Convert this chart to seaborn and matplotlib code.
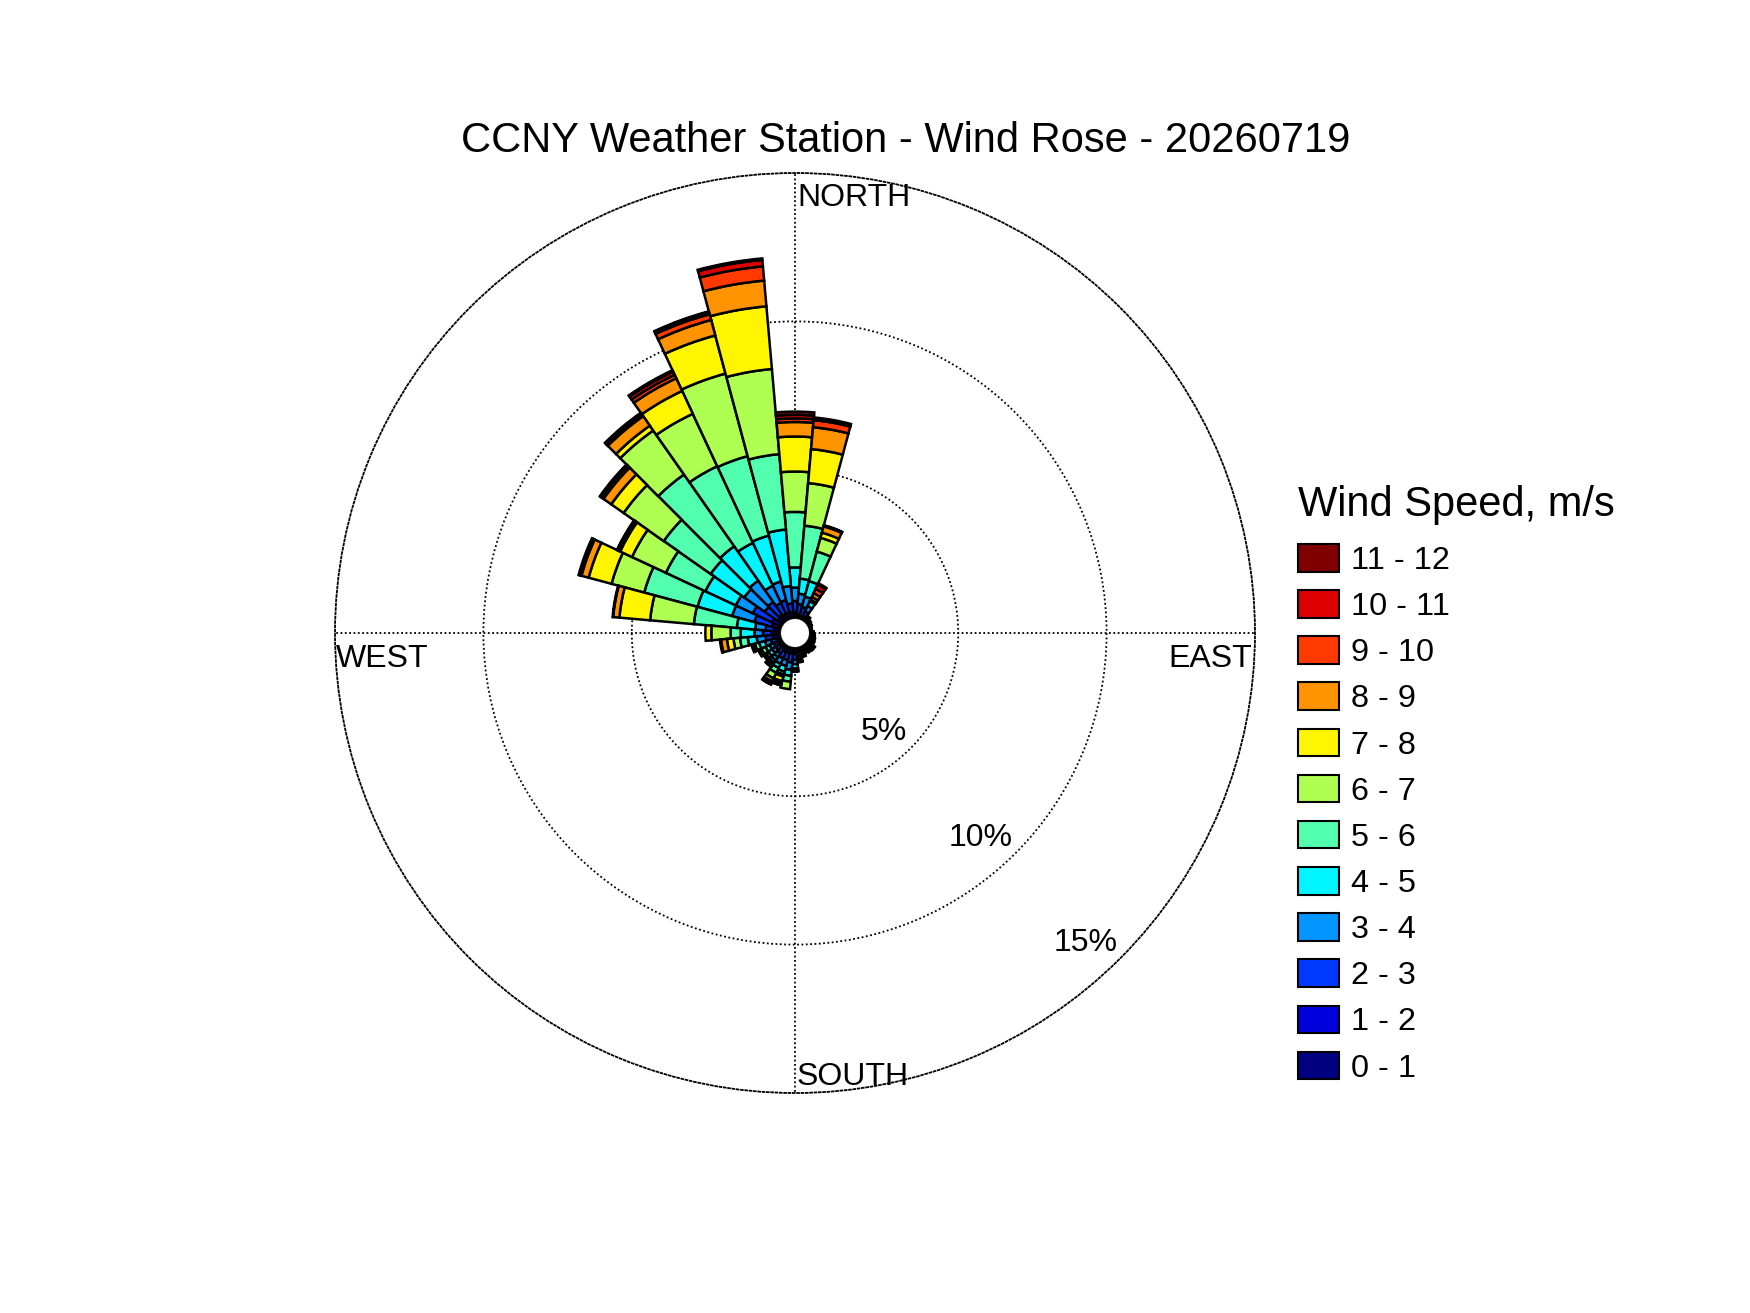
import numpy as np
import matplotlib
matplotlib.use("Agg")
import matplotlib.pyplot as plt
import seaborn as sns
from matplotlib.patches import Patch
from matplotlib.colors import LinearSegmentedColormap

# ---------------- data ----------------
directions_deg = list(range(0, 360, 10))      # sector centres, compass degrees
speed_labels = ["0 - 1", "1 - 2", "2 - 3", "3 - 4", "4 - 5", "5 - 6",
                "6 - 7", "7 - 8", "8 - 9", "9 - 10", "10 - 11", "11 - 12"]

# cumulative frequency (%) reached at the outer edge of each speed bin, per direction
cum_0_1 = [0.05, 0.04, 0.03, 0.03, 0.02, 0.02, 0.02, 0.02, 0.02, 0.02, 0.03, 0.03,
           0.03, 0.04, 0.04, 0.04, 0.04, 0.05, 0.05, 0.05, 0.05, 0.05, 0.05, 0.05,
           0.05, 0.05, 0.08, 0.10, 0.05, 0.08, 0.08, 0.05, 0.05, 0.05, 0.05, 0.05]
cum_1_2 = [0.18, 0.14, 0.10, 0.10, 0.05, 0.04, 0.04, 0.04, 0.04, 0.05, 0.07, 0.08,
           0.08, 0.10, 0.10, 0.10, 0.12, 0.15, 0.20, 0.20, 0.20, 0.20, 0.15, 0.15,
           0.15, 0.15, 0.25, 0.30, 0.20, 0.30, 0.35, 0.22, 0.25, 0.20, 0.22, 0.20]
cum_2_3 = [0.58, 0.48, 0.41, 0.30, 0.08, 0.06, 0.06, 0.05, 0.05, 0.08, 0.10, 0.12,
           0.12, 0.16, 0.16, 0.15, 0.20, 0.28, 0.40, 0.50, 0.45, 0.45, 0.35, 0.30,
           0.30, 0.35, 0.50, 0.58, 0.50, 0.92, 1.07, 0.75, 0.78, 0.62, 0.65, 0.50]
cum_3_4 = [1.03, 0.83, 0.77, 0.50, 0.10, 0.08, 0.08, 0.06, 0.06, 0.10, 0.13, 0.15,
           0.16, 0.22, 0.22, 0.20, 0.27, 0.38, 0.55, 0.75, 0.65, 0.65, 0.50, 0.45,
           0.45, 0.55, 0.80, 0.87, 0.85, 1.69, 1.70, 1.59, 1.66, 1.26, 1.30, 1.09]
cum_4_5 = [1.71, 1.34, 1.31, 0.68, 0.12, 0.10, 0.09, 0.07, 0.07, 0.12, 0.15, 0.18,
           0.20, 0.27, 0.27, 0.24, 0.32, 0.45, 0.70, 0.95, 0.85, 0.80, 0.62, 0.60,
           0.60, 0.75, 1.10, 1.33, 1.47, 2.90, 2.83, 2.97, 3.07, 2.85, 2.90, 3.00]
cum_5_6 = [3.58, 3.13, 2.34, 0.72, 0.15, 0.12, 0.10, 0.08, 0.08, 0.13, 0.17, 0.20,
           0.22, 0.30, 0.30, 0.26, 0.35, 0.50, 0.78, 1.15, 0.95, 0.98, 0.72, 0.70,
           0.75, 0.90, 1.36, 1.67, 2.92, 4.76, 4.30, 4.90, 6.02, 5.70, 5.67, 5.55]
cum_6_7 = [4.94, 4.57, 2.82, 0.74, 0.17, 0.14, 0.11, 0.08, 0.08, 0.13, 0.17, 0.20,
           0.22, 0.32, 0.30, 0.26, 0.35, 0.50, 0.80, 1.40, 1.02, 1.19, 0.80, 0.75,
           0.82, 0.97, 1.58, 2.32, 4.40, 5.90, 5.56, 6.55, 7.83, 7.65, 8.55, 8.43]
cum_7_8 = [6.12, 5.72, 3.00, 0.84, 0.20, 0.15, 0.12, 0.08, 0.08, 0.13, 0.17, 0.20,
           0.22, 0.32, 0.30, 0.26, 0.35, 0.50, 0.80, 1.40, 1.18, 1.30, 0.85, 0.78,
           0.85, 1.00, 1.80, 2.52, 5.44, 6.70, 6.00, 7.06, 8.03, 8.50, 9.88, 10.55]
cum_8_9 = [6.61, 6.46, 3.22, 0.98, 0.22, 0.15, 0.12, 0.08, 0.08, 0.13, 0.17, 0.20,
           0.22, 0.32, 0.30, 0.26, 0.35, 0.50, 0.80, 1.40, 1.25, 1.36, 0.88, 0.80,
           0.87, 1.02, 2.00, 2.52, 5.65, 6.95, 6.05, 7.38, 8.42, 8.97, 10.42, 11.42]
cum_9_10 = [6.73, 6.70, 3.25, 1.14, 0.22, 0.15, 0.12, 0.08, 0.08, 0.13, 0.17, 0.20,
            0.22, 0.32, 0.30, 0.26, 0.35, 0.50, 0.80, 1.40, 1.30, 1.40, 0.90, 0.80,
            0.87, 1.02, 2.04, 2.52, 5.67, 6.98, 6.08, 7.47, 8.47, 9.10, 10.62, 11.90]
cum_10_11 = [6.85, 6.75, 3.26, 1.30, 0.22, 0.15, 0.12, 0.08, 0.08, 0.13, 0.17, 0.20,
             0.22, 0.32, 0.30, 0.26, 0.35, 0.50, 0.80, 1.40, 1.32, 1.42, 0.90, 0.80,
             0.87, 1.02, 2.04, 2.52, 5.67, 7.00, 6.10, 7.50, 8.50, 9.22, 10.70, 12.12]
cum_11_12 = [6.96, 6.79, 3.26, 1.35, 0.22, 0.15, 0.12, 0.08, 0.08, 0.13, 0.17, 0.20,
             0.22, 0.32, 0.30, 0.26, 0.35, 0.50, 0.80, 1.40, 1.33, 1.42, 0.90, 0.80,
             0.87, 1.02, 2.04, 2.52, 5.67, 7.05, 6.12, 7.53, 8.56, 9.27, 10.72, 12.17]

ring_values = [5, 10, 15]
ring_labels = ["5%", "10%", "15%"]
title_text = "CCNY Weather Station - Wind Rose - 20260719"
legend_title = "Wind Speed, m/s"

cumulative = [cum_0_1, cum_1_2, cum_2_3, cum_3_4, cum_4_5, cum_5_6,
              cum_6_7, cum_7_8, cum_8_9, cum_9_10, cum_10_11, cum_11_12]

# ---------------- style ----------------
sns.set_theme(style="white")
plt.rcParams["font.family"] = ["Liberation Sans", "DejaVu Sans"]
plt.rcParams["text.color"] = "black"

# MATLAB-style jet colour map
jet_m = LinearSegmentedColormap.from_list(
    "jet_matlab",
    [(0.0, (0, 0, 0.5)), (1 / 8, (0, 0, 1)), (3 / 8, (0, 1, 1)),
     (5 / 8, (1, 1, 0)), (7 / 8, (1, 0, 0)), (1.0, (0.5, 0, 0))])
colors = sns.color_palette([jet_m(t) for t in np.linspace(0, 1, len(speed_labels))])

W, H = 1750, 1313
fig = plt.figure(figsize=(W / 100, H / 100), dpi=100, facecolor="white")

def fx(x):
    return x / W

def fy(y):
    return 1 - y / H

ax = fig.add_axes([fx(335), fy(1093), 920 / W, 920 / H], projection="polar")
ax.set_facecolor("white")
ax.set_theta_zero_location("N")
ax.set_theta_direction(-1)
ax.set_ylim(0, 15)
ax.set_rorigin(-0.5)

dotted = (0, (1.0, 1.4))
ax.set_rgrids(ring_values[:-1], labels=[""] * (len(ring_values) - 1))
ax.set_thetagrids([0, 90, 180, 270], labels=[""] * 4)
ax.grid(True, color="black", linestyle=dotted, linewidth=1.3)
ax.set_axisbelow(True)
ax.spines["polar"].set_linestyle(dotted)
ax.spines["polar"].set_linewidth(1.3)
ax.spines["polar"].set_color("black")
for name in ("inner", "start", "end"):
    if name in ax.spines:
        ax.spines[name].set_visible(False)
ax.tick_params(axis="both", length=0)

theta = np.deg2rad(np.array(directions_deg, dtype=float))
width = np.deg2rad(10)
prev = np.zeros(len(directions_deg))
for i, top in enumerate(cumulative):
    top = np.array(top, dtype=float)
    h = top - prev
    m = h > 1e-9
    ax.bar(theta[m], h[m], width=width, bottom=prev[m], color=colors[i],
           edgecolor="black", linewidth=1.8, align="center", zorder=3)
    prev = top

# ---------------- texts ----------------
fig.text(fx(906), fy(152), title_text, ha="center", va="baseline", fontsize=30)
fig.text(fx(797), fy(206), "NORTH", ha="left", va="baseline", fontsize=23)
fig.text(fx(336), fy(667), "WEST", ha="left", va="baseline", fontsize=23)
fig.text(fx(1252), fy(667), "EAST", ha="right", va="baseline", fontsize=23)
fig.text(fx(797), fy(1085), "SOUTH", ha="left", va="baseline", fontsize=23)
for (px, py), lab in zip([(884, 732), (981, 838), (1086, 943)], ring_labels):
    fig.text(fx(px), fy(py), lab, ha="center", va="center", fontsize=23)

handles = [Patch(facecolor=colors[i], edgecolor="black", linewidth=1.5,
                 label=speed_labels[i]) for i in range(len(speed_labels) - 1, -1, -1)]
leg = fig.legend(handles=handles, loc="upper left",
                 bbox_to_anchor=(fx(1298), fy(485)), bbox_transform=fig.transFigure,
                 frameon=False, fontsize=23.3, title=legend_title, title_fontsize=30,
                 handlelength=1.27, handleheight=0.93, handletextpad=0.37,
                 labelspacing=0.441, borderpad=0, borderaxespad=0, alignment="left")
try:
    leg._legend_box.sep = 13.7
except Exception:
    pass

fig.savefig("out.png", dpi=100, facecolor="white")
